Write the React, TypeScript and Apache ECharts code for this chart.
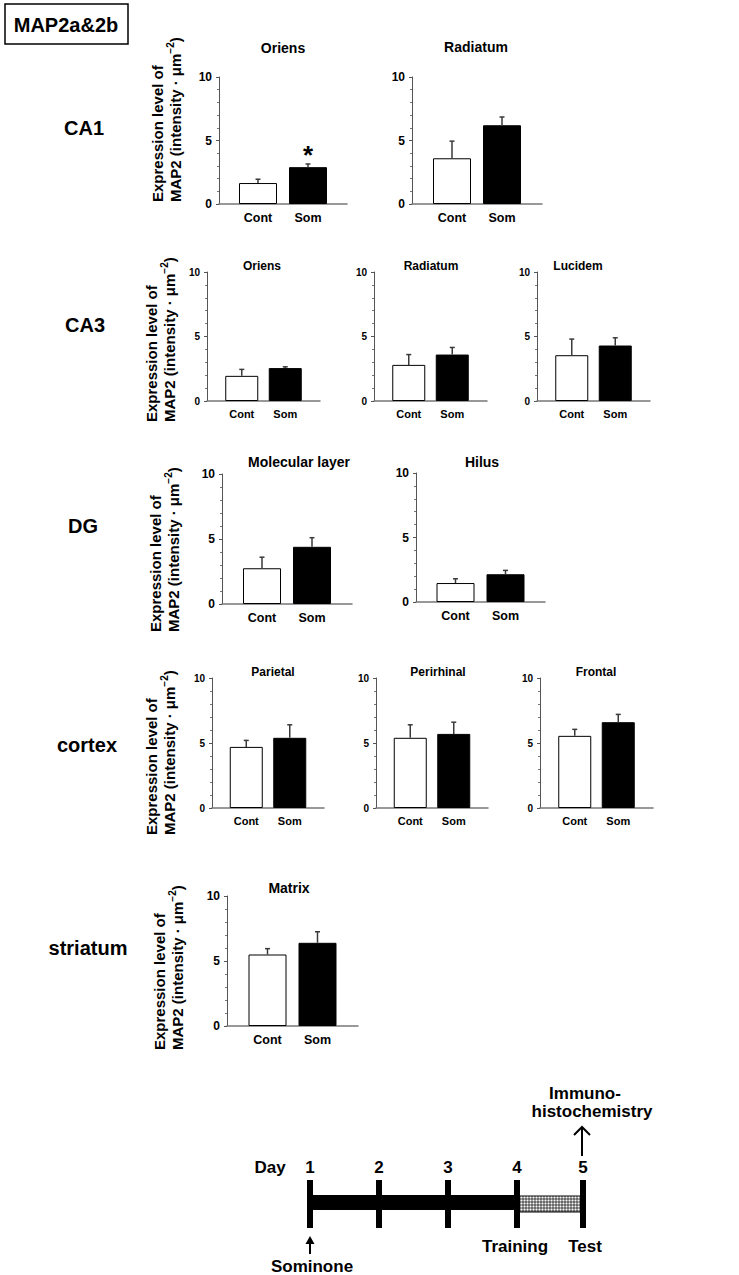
import React, { useEffect, useRef } from 'react';
import * as echarts from 'echarts';

// ---------------- data ----------------
const headerTitle = 'MAP2a&2b';
const groups = ['Cont', 'Som'];
const regionNames = ['CA1', 'CA3', 'DG', 'cortex', 'striatum'];
const panelTitles = ['Oriens', 'Radiatum', 'Oriens', 'Radiatum', 'Lucidem', 'Molecular layer', 'Hilus', 'Parietal', 'Perirhinal', 'Frontal', 'Matrix'];
const contMeans = [1.65, 3.6, 1.95, 2.8, 3.55, 2.75, 1.47, 4.7, 5.4, 5.55, 5.5];
const contErrors = [0.3, 1.35, 0.5, 0.8, 1.25, 0.85, 0.33, 0.5, 1.0, 0.5, 0.45];
const somMeans = [2.9, 6.2, 2.55, 3.6, 4.3, 4.4, 2.15, 5.4, 5.7, 6.6, 6.4];
const somErrors = [0.25, 0.65, 0.1, 0.55, 0.6, 0.7, 0.3, 1.0, 0.9, 0.6, 0.85];
const significance = ['*', '', '', '', '', '', '', '', '', '', ''];
const yMin = 0;
const yMax = 10;
const yInterval = 5;
const yTitleLines = ['Expression level of', 'MAP2 (intensity \u00b7 \u03bcm'];
const yTitleSup = '\u22122';
const timelineDays = ['1', '2', '3', '4', '5'];

// ---------------- layout (positions / styles only) ----------------
const FONT = '"Liberation Sans", Arial, Helvetica, sans-serif';
type Panel = { left: number; top: number; width: number; height: number; big: boolean; tx: number; ty: number };
const panels: Panel[] = [
  { left: 219, top: 77, width: 128, height: 127, big: true, tx: 283, ty: 48 },
  { left: 412, top: 77, width: 130, height: 127, big: true, tx: 476, ty: 47 },
  { left: 207, top: 272, width: 113, height: 129, big: false, tx: 262, ty: 266 },
  { left: 374, top: 272, width: 113, height: 129, big: false, tx: 431, ty: 266 },
  { left: 537, top: 272, width: 113, height: 129, big: false, tx: 578, ty: 266 },
  { left: 222, top: 474, width: 130, height: 130, big: true, tx: 299, ty: 462 },
  { left: 416, top: 473, width: 129, height: 129, big: true, tx: 482, ty: 462 },
  { left: 212, top: 678, width: 112, height: 130, big: false, tx: 273, ty: 672 },
  { left: 376, top: 678, width: 112, height: 130, big: false, tx: 438, ty: 672 },
  { left: 540, top: 678, width: 113, height: 130, big: false, tx: 596, ty: 672 },
  { left: 227, top: 896, width: 131, height: 130, big: true, tx: 289, ty: 888 },
];
const rowLabelPos = [
  [84, 128], [85, 325], [83, 526], [87, 745], [88, 948],
];
const yTitlePos = [
  [157, 174, 202], [151, 168, 422], [155, 172, 632], [151, 168, 835], [159, 176, 1050],
];
const dayX = [310, 379, 448, 517, 583];

function buildOption() {
  const grid: any[] = [];
  const xAxis: any[] = [];
  const yAxis: any[] = [];
  const series: any[] = [];
  const graphic: any[] = [];

  panels.forEach((p, i) => {
    const barW = p.big ? 38 : 33;
    const gap = p.big ? 12 : 10.5;
    const offset = (barW + gap) / 2;
    const tickFs = p.big ? 12 : 10;
    const catFs = p.big ? 12.5 : 11;
    const titleFs = p.big ? 14 : 12;

    grid.push({ left: p.left, top: p.top, width: p.width, height: p.height, containLabel: false });
    xAxis.push({
      type: 'category',
      gridIndex: i,
      data: [panelTitles[i]],
      axisLine: { show: true, lineStyle: { color: '#777', width: 1.5 } },
      axisTick: { show: false },
      axisLabel: { show: false },
      splitLine: { show: false },
    });
    yAxis.push({
      type: 'value',
      gridIndex: i,
      min: yMin,
      max: yMax,
      interval: yInterval,
      axisLine: { show: true, lineStyle: { color: '#555', width: 1 } },
      axisTick: { show: true, length: 3, lineStyle: { color: '#555' } },
      minorTick: { show: true, splitNumber: 5, length: 2, lineStyle: { color: '#777' } },
      splitLine: { show: false },
      minorSplitLine: { show: false },
      axisLabel: { color: '#000', fontWeight: 'bold', fontSize: tickFs, fontFamily: FONT, margin: 7 },
    });
    const labelBase = {
      show: true,
      position: 'bottom',
      distance: 7,
      color: '#000',
      fontWeight: 'bold',
      fontSize: catFs,
      fontFamily: FONT,
    };
    series.push({
      type: 'bar',
      name: groups[0],
      xAxisIndex: i,
      yAxisIndex: i,
      data: [contMeans[i]],
      barWidth: barW,
      barGap: `${(gap / barW) * 100}%`,
      itemStyle: { color: '#fff', borderColor: '#000', borderWidth: 1 },
      label: { ...labelBase, formatter: groups[0] },
      silent: true,
    });
    series.push({
      type: 'bar',
      name: groups[1],
      xAxisIndex: i,
      yAxisIndex: i,
      data: [somMeans[i]],
      barWidth: barW,
      barGap: `${(gap / barW) * 100}%`,
      itemStyle: { color: '#000', borderColor: '#000', borderWidth: 1 },
      label: { ...labelBase, formatter: groups[1] },
      silent: true,
    });
    const sig = significance[i];
    series.push({
      type: 'custom',
      name: 'error',
      xAxisIndex: i,
      yAxisIndex: i,
      silent: true,
      z: 5,
      data: [
        [0, contMeans[i], contErrors[i], -1],
        [0, somMeans[i], somErrors[i], 1],
      ],
      renderItem: (params: any, api: any) => {
        const mean = api.value(1);
        const err = api.value(2);
        const side = api.value(3);
        const base = api.coord([0, mean]);
        const top = api.coord([0, mean + err]);
        const x = base[0] + side * offset;
        const stroke = '#3a3a3a';
        const children: any[] = [
          { type: 'line', shape: { x1: x, y1: base[1], x2: x, y2: top[1] }, style: { stroke, lineWidth: 1.5 } },
          { type: 'line', shape: { x1: x - 2.5, y1: top[1], x2: x + 2.5, y2: top[1] }, style: { stroke, lineWidth: 1.5 } },
        ];
        if (params.dataIndex === 1 && sig) {
          children.push({
            type: 'text',
            x,
            y: top[1] - 9,
            style: {
              text: sig,
              fill: '#000',
              font: `bold 26px ${FONT}`,
              align: 'center',
              verticalAlign: 'middle',
              textAlign: 'center',
              textVerticalAlign: 'middle',
            },
          });
        }
        return { type: 'group', children };
      },
    });

    graphic.push({
      type: 'text',
      x: p.tx,
      y: p.ty,
      style: {
        text: panelTitles[i],
        fill: '#000',
        font: `bold ${titleFs}px ${FONT}`,
        textAlign: 'center',
        textVerticalAlign: 'middle',
        align: 'center',
        verticalAlign: 'middle',
      },
    });
  });

  // header box
  graphic.push({
    type: 'rect',
    shape: { x: 5, y: 4, width: 123, height: 40 },
    style: { fill: '#fff', stroke: '#000', lineWidth: 1.5 },
  });
  graphic.push({
    type: 'text',
    x: 66,
    y: 25,
    style: {
      text: headerTitle, fill: '#000', font: `bold 20px ${FONT}`,
      textAlign: 'center', textVerticalAlign: 'middle', align: 'center', verticalAlign: 'middle',
    },
  });

  // row labels and y titles
  regionNames.forEach((name, r) => {
    const [lx, ly] = rowLabelPos[r];
    graphic.push({
      type: 'text',
      x: lx,
      y: ly,
      style: {
        text: name, fill: '#000', font: `bold 20px ${FONT}`,
        textAlign: 'center', textVerticalAlign: 'middle', align: 'center', verticalAlign: 'middle',
      },
    });
    const [x1, x2, by] = yTitlePos[r];
    graphic.push({
      type: 'text',
      x: x1,
      y: by,
      rotation: Math.PI / 2,
      style: {
        text: yTitleLines[0], fill: '#000', font: `bold 15px ${FONT}`,
        textAlign: 'left', textVerticalAlign: 'middle', align: 'left', verticalAlign: 'middle',
      },
    });
    graphic.push({
      type: 'text',
      x: x2,
      y: by,
      rotation: Math.PI / 2,
      style: {
        text: `{a|${yTitleLines[1]}}{s|${yTitleSup}}{a|)}`,
        fill: '#000',
        textAlign: 'left', textVerticalAlign: 'middle', align: 'left', verticalAlign: 'middle',
        rich: {
          a: { fontSize: 15, fontWeight: 'bold', fontFamily: FONT, lineHeight: 18, verticalAlign: 'bottom' },
          s: { fontSize: 10, fontWeight: 'bold', fontFamily: FONT, lineHeight: 18, verticalAlign: 'top' },
        },
      },
    });
  });

  // timeline
  const tFont = `bold 17px ${FONT}`;
  const txt = (text: string, x: number, y: number) => ({
    type: 'text', x, y,
    style: { text, fill: '#000', font: tFont, textAlign: 'center', textVerticalAlign: 'middle', align: 'center', verticalAlign: 'middle' },
  });
  graphic.push(txt('Day', 270, 1167));
  timelineDays.forEach((d, k) => {
    graphic.push(txt(d, dayX[k], 1167));
  });
  graphic.push({ type: 'rect', shape: { x: dayX[0], y: 1195, width: dayX[3] - dayX[0], height: 15 }, style: { fill: '#000' } });
  const hx0 = dayX[3];
  const hx1 = dayX[4];
  const hy0 = 1196;
  const hy1 = 1212;
  graphic.push({ type: 'rect', shape: { x: hx0, y: hy0, width: hx1 - hx0, height: hy1 - hy0 }, style: { fill: '#fff', stroke: '#000', lineWidth: 1 } });
  for (let x = hx0 + 3; x < hx1; x += 3) {
    graphic.push({ type: 'line', shape: { x1: x, y1: hy0, x2: x, y2: hy1 }, style: { stroke: '#000', lineWidth: 0.7 } });
  }
  for (let y = hy0 + 3; y < hy1; y += 3) {
    graphic.push({ type: 'line', shape: { x1: hx0, y1: y, x2: hx1, y2: y }, style: { stroke: '#000', lineWidth: 0.7 } });
  }
  dayX.forEach((x) => {
    graphic.push({ type: 'rect', shape: { x: x - 3, y: 1180, width: 6, height: 48 }, style: { fill: '#000' } });
  });
  // immunohistochemistry arrow
  graphic.push({ type: 'line', shape: { x1: 582, y1: 1156, x2: 582, y2: 1127 }, style: { stroke: '#000', lineWidth: 2 } });
  graphic.push({ type: 'polyline', shape: { points: [[574, 1135], [582, 1127], [590, 1135]] }, style: { stroke: '#000', lineWidth: 2, fill: 'none' } });
  graphic.push(txt('Immuno-', 585, 1093));
  graphic.push(txt('histochemistry', 592, 1111));
  graphic.push(txt('Training', 515, 1246));
  graphic.push(txt('Test', 585, 1246));
  // sominone arrow
  graphic.push({ type: 'line', shape: { x1: 310, y1: 1254, x2: 310, y2: 1242 }, style: { stroke: '#000', lineWidth: 2 } });
  graphic.push({ type: 'polygon', shape: { points: [[305.5, 1244], [310, 1236], [314.5, 1244]] }, style: { fill: '#000' } });
  graphic.push(txt('Sominone', 312, 1266));

  return {
    animation: false,
    backgroundColor: '#fff',
    textStyle: { fontFamily: FONT },
    grid,
    xAxis,
    yAxis,
    series,
    graphic,
  };
}

export default function App() {
  const ref = useRef<HTMLDivElement>(null);
  useEffect(() => {
    if (!ref.current) return;
    const chart = echarts.init(ref.current, null, { renderer: 'svg' });
    chart.setOption(buildOption() as any);
    return () => chart.dispose();
  }, []);
  return (
    <div
      ref={ref}
      style={{ position: 'absolute', left: 0, top: 0, width: 739, height: 1275, background: '#fff' }}
    />
  );
}
